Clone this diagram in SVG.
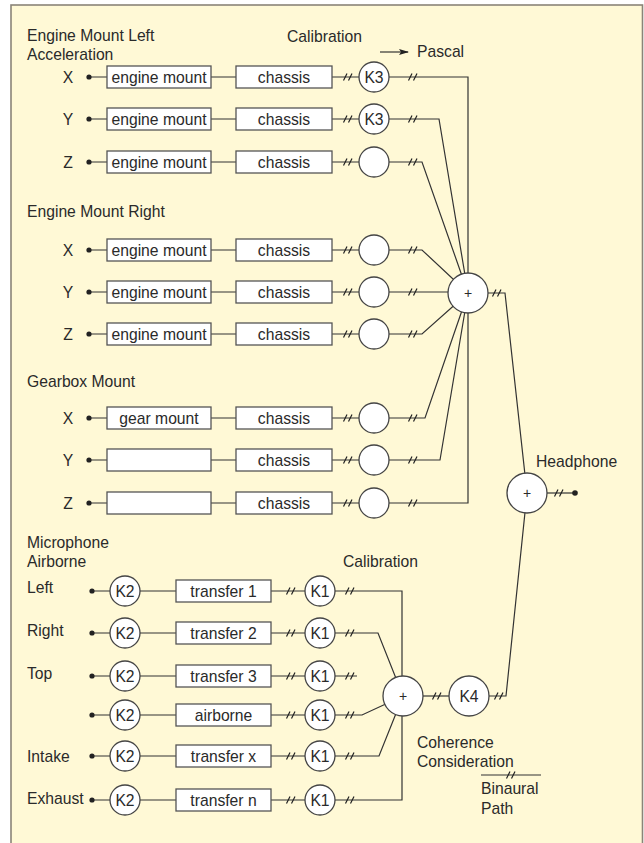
<svg xmlns="http://www.w3.org/2000/svg" width="644" height="843" viewBox="0 0 644 843">
<style>
text{font-family:"Liberation Sans",Arial,sans-serif;font-size:15.7px;fill:#2a2a2a}
.c{text-anchor:middle}
.pl{font-size:14px}
.box{fill:#fff;stroke:#555;stroke-width:1.3}
.cir{fill:#fff;stroke:#444;stroke-width:1.3}
.w{fill:none;stroke:#333;stroke-width:1.2}
.tk{fill:none;stroke:#222;stroke-width:1.2}
.dot{fill:#222}
</style>
<defs>
<g id="tick"><path class="tk" d="M-4.5,3.5 L-1,-3.5 M0.5,3.5 L4,-3.5"/></g>
<marker id="ah" markerWidth="10" markerHeight="8" refX="9" refY="4" orient="auto" markerUnits="userSpaceOnUse"><path d="M0,1 L10,4 L0,7 L2,4 Z" fill="#222"/></marker>
</defs>
<rect x="11" y="5" width="631.5" height="845" fill="#FFF9D6" stroke="#8a8478" stroke-width="1.6"/>

<!-- labels -->
<g id="labels">
<text x="27" y="41">Engine Mount Left</text>
<text x="27" y="60">Acceleration</text>
<text x="287" y="42">Calibration</text>
<text x="417" y="57">Pascal</text>
<text x="27" y="217">Engine Mount Right</text>
<text x="27" y="387">Gearbox Mount</text>
<text x="27" y="548">Microphone</text>
<text x="27" y="567">Airborne</text>
<text x="343" y="567">Calibration</text>
<text x="536" y="467">Headphone</text>
<text x="27" y="593">Left</text>
<text x="27" y="636">Right</text>
<text x="27" y="679">Top</text>
<text x="27" y="762">Intake</text>
<text x="27" y="804">Exhaust</text>
<text x="417" y="748">Coherence</text>
<text x="417" y="767">Consideration</text>
<text x="481" y="794">Binaural</text>
<text x="481" y="814">Path</text>
</g>

<!-- connectors -->
<g id="connectors">
<line class="w" x1="380" y1="52" x2="408" y2="52" marker-end="url(#ah)"/>
<!-- top rows -->
<path class="w" d="M89,77 H107 M211,77 H236 M332,77 H359 M389,77 H468 V293"/>
<path class="w" d="M89,119 H107 M211,119 H236 M332,119 H359 M389,119 H439 L468,293"/>
<path class="w" d="M89,162 H107 M211,162 H236 M332,162 H359 M389,162 H422 L468,293"/>
<path class="w" d="M89,250 H107 M211,250 H236 M332,250 H359 M389,250 H422 L468,293"/>
<path class="w" d="M89,292 H107 M211,292 H236 M332,292 H359 M389,292 H468"/>
<path class="w" d="M89,334 H107 M211,334 H236 M332,334 H359 M389,334 H422 L468,293"/>
<path class="w" d="M89,418 H107 M211,418 H236 M332,418 H359 M389,418 H425 L468,293"/>
<path class="w" d="M89,460 H107 M211,460 H236 M332,460 H359 M389,460 H440 L468,293"/>
<path class="w" d="M89,503 H107 M211,503 H236 M332,503 H359 M389,503 H468 V293"/>
<!-- to headphone -->
<path class="w" d="M488,293 H505 L527,493"/>
<path class="w" d="M527,493 L506,696 H489"/>
<path class="w" d="M547,493 H575"/>
<!-- microphone rows -->
<path class="w" d="M92,591 H110 M140,591 H176 M271,591 H305 M335,591 H402 V696"/>
<path class="w" d="M92,633 H110 M140,633 H176 M271,633 H305 M335,633 H378 L403,696"/>
<path class="w" d="M92,676 H110 M140,676 H176 M271,676 H305 M335,676 H357"/>
<path class="w" d="M92,715 H110 M140,715 H176 M271,715 H305 M335,715 H362 L403,696"/>
<path class="w" d="M92,756 H110 M140,756 H176 M271,756 H305 M335,756 H379 L403,696"/>
<path class="w" d="M92,800 H110 M140,800 H176 M271,800 H305 M335,800 H402 V696"/>
<path class="w" d="M423,696 H449"/>
<line class="w" x1="481" y1="775" x2="541" y2="775"/>
<!-- ticks -->
<use href="#tick" x="348" y="77"/><use href="#tick" x="413" y="77"/>
<use href="#tick" x="348" y="119"/><use href="#tick" x="413" y="119"/>
<use href="#tick" x="348" y="162"/><use href="#tick" x="413" y="162"/>
<use href="#tick" x="348" y="250"/><use href="#tick" x="413" y="250"/>
<use href="#tick" x="348" y="292"/><use href="#tick" x="413" y="292"/>
<use href="#tick" x="348" y="334"/><use href="#tick" x="413" y="334"/>
<use href="#tick" x="348" y="418"/><use href="#tick" x="413" y="418"/>
<use href="#tick" x="348" y="460"/><use href="#tick" x="413" y="460"/>
<use href="#tick" x="348" y="503"/><use href="#tick" x="413" y="503"/>
<use href="#tick" x="497" y="293"/>
<use href="#tick" x="559" y="493"/>
<use href="#tick" x="291" y="591"/><use href="#tick" x="350" y="591"/>
<use href="#tick" x="291" y="633"/><use href="#tick" x="350" y="633"/>
<use href="#tick" x="291" y="676"/><use href="#tick" x="350" y="676"/>
<use href="#tick" x="291" y="715"/><use href="#tick" x="350" y="715"/>
<use href="#tick" x="291" y="756"/><use href="#tick" x="350" y="756"/>
<use href="#tick" x="291" y="800"/><use href="#tick" x="350" y="800"/>
<use href="#tick" x="437" y="696"/>
<use href="#tick" x="499" y="696"/>
<use href="#tick" x="511" y="775"/>
</g>

<!-- Engine mount left -->
<g id="eml-x">
<text class="c" x="68" y="83">X</text><circle class="dot" cx="89" cy="77" r="2.6"/>
<rect class="box" x="107" y="66" width="104" height="22"/><text class="c" x="159" y="83">engine mount</text>
<rect class="box" x="236" y="66" width="96" height="22"/><text class="c" x="284" y="83">chassis</text>
<circle class="cir" cx="374" cy="77" r="15"/><text class="c" x="374" y="83">K3</text>
</g>
<g id="eml-y">
<text class="c" x="68" y="125">Y</text><circle class="dot" cx="89" cy="119" r="2.6"/>
<rect class="box" x="107" y="108" width="104" height="22"/><text class="c" x="159" y="125">engine mount</text>
<rect class="box" x="236" y="108" width="96" height="22"/><text class="c" x="284" y="125">chassis</text>
<circle class="cir" cx="374" cy="119" r="15"/><text class="c" x="374" y="125">K3</text>
</g>
<g id="eml-z">
<text class="c" x="68" y="168">Z</text><circle class="dot" cx="89" cy="162" r="2.6"/>
<rect class="box" x="107" y="151" width="104" height="22"/><text class="c" x="159" y="168">engine mount</text>
<rect class="box" x="236" y="151" width="96" height="22"/><text class="c" x="284" y="168">chassis</text>
<circle class="cir" cx="374" cy="162" r="15"/>
</g>
<!-- Engine mount right -->
<g id="emr-x">
<text class="c" x="68" y="256">X</text><circle class="dot" cx="89" cy="250" r="2.6"/>
<rect class="box" x="107" y="239" width="104" height="22"/><text class="c" x="159" y="256">engine mount</text>
<rect class="box" x="236" y="239" width="96" height="22"/><text class="c" x="284" y="256">chassis</text>
<circle class="cir" cx="374" cy="250" r="15"/>
</g>
<g id="emr-y">
<text class="c" x="68" y="298">Y</text><circle class="dot" cx="89" cy="292" r="2.6"/>
<rect class="box" x="107" y="281" width="104" height="22"/><text class="c" x="159" y="298">engine mount</text>
<rect class="box" x="236" y="281" width="96" height="22"/><text class="c" x="284" y="298">chassis</text>
<circle class="cir" cx="374" cy="292" r="15"/>
</g>
<g id="emr-z">
<text class="c" x="68" y="340">Z</text><circle class="dot" cx="89" cy="334" r="2.6"/>
<rect class="box" x="107" y="323" width="104" height="22"/><text class="c" x="159" y="340">engine mount</text>
<rect class="box" x="236" y="323" width="96" height="22"/><text class="c" x="284" y="340">chassis</text>
<circle class="cir" cx="374" cy="334" r="15"/>
</g>
<!-- Gearbox -->
<g id="gb-x">
<text class="c" x="68" y="424">X</text><circle class="dot" cx="89" cy="418" r="2.6"/>
<rect class="box" x="107" y="407" width="104" height="22"/><text class="c" x="159" y="424">gear mount</text>
<rect class="box" x="236" y="407" width="96" height="22"/><text class="c" x="284" y="424">chassis</text>
<circle class="cir" cx="374" cy="418" r="15"/>
</g>
<g id="gb-y">
<text class="c" x="68" y="466">Y</text><circle class="dot" cx="89" cy="460" r="2.6"/>
<rect class="box" x="107" y="449" width="104" height="22"/>
<rect class="box" x="236" y="449" width="96" height="22"/><text class="c" x="284" y="466">chassis</text>
<circle class="cir" cx="374" cy="460" r="15"/>
</g>
<g id="gb-z">
<text class="c" x="68" y="509">Z</text><circle class="dot" cx="89" cy="503" r="2.6"/>
<rect class="box" x="107" y="492" width="104" height="22"/>
<rect class="box" x="236" y="492" width="96" height="22"/><text class="c" x="284" y="509">chassis</text>
<circle class="cir" cx="374" cy="503" r="15"/>
</g>
<g id="sum-top"><circle class="cir" cx="468" cy="293" r="20"/><text class="c pl" x="468" y="298">+</text></g>
<g id="sum-head"><circle class="cir" cx="527" cy="493" r="20"/><text class="c pl" x="527" y="498">+</text><circle class="dot" cx="575" cy="493" r="2.8"/></g>

<!-- Microphone rows -->
<g id="mic-left"><circle class="dot" cx="92" cy="591" r="2.6"/><circle class="cir" cx="125" cy="591" r="15"/><text class="c" x="125" y="597">K2</text>
<rect class="box" x="176" y="580" width="95" height="22"/><text class="c" x="223.5" y="597">transfer 1</text>
<circle class="cir" cx="320" cy="591" r="15"/><text class="c" x="320" y="597">K1</text></g>
<g id="mic-right"><circle class="dot" cx="92" cy="633" r="2.6"/><circle class="cir" cx="125" cy="633" r="15"/><text class="c" x="125" y="639">K2</text>
<rect class="box" x="176" y="622" width="95" height="22"/><text class="c" x="223.5" y="639">transfer 2</text>
<circle class="cir" cx="320" cy="633" r="15"/><text class="c" x="320" y="639">K1</text></g>
<g id="mic-top"><circle class="dot" cx="92" cy="676" r="2.6"/><circle class="cir" cx="125" cy="676" r="15"/><text class="c" x="125" y="682">K2</text>
<rect class="box" x="176" y="665" width="95" height="22"/><text class="c" x="223.5" y="682">transfer 3</text>
<circle class="cir" cx="320" cy="676" r="15"/><text class="c" x="320" y="682">K1</text></g>
<g id="mic-airborne"><circle class="dot" cx="92" cy="715" r="2.6"/><circle class="cir" cx="125" cy="715" r="15"/><text class="c" x="125" y="721">K2</text>
<rect class="box" x="176" y="704" width="95" height="22"/><text class="c" x="223.5" y="721">airborne</text>
<circle class="cir" cx="320" cy="715" r="15"/><text class="c" x="320" y="721">K1</text></g>
<g id="mic-intake"><circle class="dot" cx="92" cy="756" r="2.6"/><circle class="cir" cx="125" cy="756" r="15"/><text class="c" x="125" y="762">K2</text>
<rect class="box" x="176" y="745" width="95" height="22"/><text class="c" x="223.5" y="762">transfer x</text>
<circle class="cir" cx="320" cy="756" r="15"/><text class="c" x="320" y="762">K1</text></g>
<g id="mic-exhaust"><circle class="dot" cx="92" cy="800" r="2.6"/><circle class="cir" cx="125" cy="800" r="15"/><text class="c" x="125" y="806">K2</text>
<rect class="box" x="176" y="789" width="95" height="22"/><text class="c" x="223.5" y="806">transfer n</text>
<circle class="cir" cx="320" cy="800" r="15"/><text class="c" x="320" y="806">K1</text></g>
<g id="sum-bottom"><circle class="cir" cx="403" cy="696" r="20"/><text class="c pl" x="403" y="701">+</text></g>
<g id="k4"><circle class="cir" cx="469" cy="696" r="20"/><text class="c" x="469" y="702">K4</text></g>
</svg>
